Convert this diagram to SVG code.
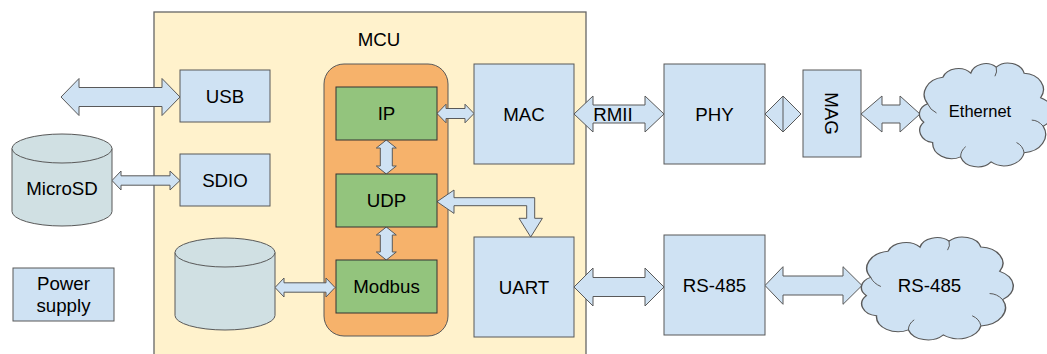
<svg xmlns="http://www.w3.org/2000/svg" width="1047" height="354" viewBox="0 0 1047 354">
<defs>
<style>
.t{font-family:"Liberation Sans",Arial,sans-serif;font-size:18.7px;fill:#000;text-anchor:middle}
.box{fill:#cfe2f3;stroke:#595959;stroke-width:1}
.grn{fill:#93c47d;stroke:#333;stroke-width:1}
.cyl{fill:#d0e0e3;stroke:#595959;stroke-width:1}
.arr{fill:#cfe2f3;stroke:#595959;stroke-width:1;stroke-linejoin:miter}
.cloud{fill:#cfe2f3;stroke:#595959;stroke-width:1}
.hook{fill:none;stroke:#595959;stroke-width:1}
</style>
<path id="cloudShape" d="M6 40 A17 17 0 0 1 18 14 A13 13 0 0 1 40 10 A12 12 0 0 1 60 4 A13 13 0 0 1 82 10 A16 16 0 0 1 95 34 A16 16 0 0 1 97 62 A18 18 0 0 1 82 88 A16 16 0 0 1 56 97 A14 14 0 0 1 32 92 A15 15 0 0 1 10 78 A12 12 0 0 1 3 58 A11 11 0 0 1 6 40 Z"/>
</defs>
<rect width="1047" height="354" fill="#fff"/>
<g id="mcu">
<rect x="154" y="12" width="432" height="350" fill="#fff2cc" stroke="#666" stroke-width="1.3"/>
<text class="t" x="379" y="46">MCU</text>
</g>
<g id="stack">
<rect x="324" y="64" width="124" height="272" rx="20" fill="#f6b26b" stroke="#595959" stroke-width="1"/>
</g>
<g id="connectors">
<polygon class="arr" points="61,97 79,78.5 79,87.5 162,87.5 162,78.5 180,97 162,115.5 162,106.5 79,106.5 79,115.5"/>
<polygon class="arr" points="112,180.5 121,171 121,175.8 170,175.8 170,171 180,180.5 170,190 170,185.2 121,185.2 121,190"/>
<polygon class="arr" points="275,287.5 284,278 284,282.8 326,282.8 326,278 335,287.5 326,297 326,292.2 284,292.2 284,297"/>
<polygon class="arr" points="437,113.5 446,104.2 446,108.5 465,108.5 465,104.2 474,113.5 465,122.8 465,118.5 446,118.5 446,122.8"/>
<polygon class="arr" points="386.3,140 396.3,148 392.3,148 392.3,166 396.3,166 386.3,174 376.3,166 380.3,166 380.3,148 376.3,148"/>
<polygon class="arr" points="386.3,227 396.3,235 392.3,235 392.3,252 396.3,252 386.3,260 376.3,252 380.3,252 380.3,235 376.3,235"/>
<polygon class="arr" points="437,201.7 454,190 454,197.7 534.7,197.7 534.7,218.3 542.4,218.3 530.7,237 519,218.3 526.7,218.3 526.7,205.7 454,205.7 454,213.4"/>
<polygon class="arr" points="574,114 593,96 593,105 645,105 645,96 664,114 645,132 645,123 593,123 593,132"/>
<polygon class="arr" points="765,114 783,96 801,114 783,132"/>
<line x1="783" y1="96" x2="783" y2="132" stroke="#595959" stroke-width="1"/>
<polygon class="arr" points="861,114 882,96 882,105 900,105 900,96 920,114 900,132 900,123 882,123 882,132"/>
<polygon class="arr" points="574,287 593,268 593,277.5 645,277.5 645,268 664,287 645,306 645,296.5 593,296.5 593,306"/>
<polygon class="arr" points="765,285.5 783,266.7 783,276 843,276 843,266.7 862,285.5 843,304.3 843,295 783,295 783,304.3"/>
<text class="t" x="613" y="121">RMII</text>
</g>
<g id="usb">
<rect class="box" x="180" y="70" width="90" height="52"/>
<text class="t" x="225" y="103">USB</text>
</g>
<g id="sdio">
<rect class="box" x="180" y="154" width="90" height="52"/>
<text class="t" x="225" y="187">SDIO</text>
</g>
<g id="microsd">
<path class="cyl" d="M12 148.5 A50 14.5 0 0 1 112 148.5 V211.5 A50 14.5 0 0 1 12 211.5 Z"/>
<path class="cyl" fill="none" d="M12 148.5 A50 14.5 0 0 0 112 148.5"/>
<text class="t" x="62" y="194.5">MicroSD</text>
</g>
<g id="storage">
<path class="cyl" d="M175 252.5 A50 14.5 0 0 1 275 252.5 V315.5 A50 14.5 0 0 1 175 315.5 Z"/>
<path class="cyl" fill="none" d="M175 252.5 A50 14.5 0 0 0 275 252.5"/>
</g>
<g id="power">
<rect class="box" x="13" y="268" width="101" height="53"/>
<text class="t" x="63.5" y="290">Power</text>
<text class="t" x="63.5" y="312">supply</text>
</g>
<g id="ip">
<rect class="grn" x="336" y="87" width="101" height="53"/>
<text class="t" x="386.5" y="120">IP</text>
</g>
<g id="udp">
<rect class="grn" x="336" y="174" width="101" height="53"/>
<text class="t" x="386.5" y="207">UDP</text>
</g>
<g id="modbus">
<rect class="grn" x="336" y="260" width="101" height="53"/>
<text class="t" x="386.5" y="293">Modbus</text>
</g>
<g id="mac">
<rect class="box" x="474" y="64" width="100" height="100"/>
<text class="t" x="524" y="121">MAC</text>
</g>
<g id="uart">
<rect class="box" x="474" y="237" width="100" height="100"/>
<text class="t" x="524" y="294">UART</text>
</g>
<g id="phy">
<rect class="box" x="664" y="64" width="101" height="100"/>
<text class="t" x="714.5" y="121">PHY</text>
</g>
<g id="mag">
<rect class="box" x="803" y="70" width="58" height="87"/>
<text class="t" transform="translate(832 113.5) rotate(90)" x="0" y="6.7">MAG</text>
</g>
<g id="rs485">
<rect class="box" x="664" y="235" width="101" height="100"/>
<text class="t" x="714.5" y="292">RS-485</text>
</g>
<g id="ethernet">
<g transform="translate(920 63) scale(1.27 1.02)">
<use href="#cloudShape" class="cloud" style="vector-effect:non-scaling-stroke"/>
<path class="hook" style="vector-effect:non-scaling-stroke" d="M6 40 Q8 46 13 49 M32 92 Q32 86 36 82 M82 88 Q81 81 76 78 M97 62 Q93 56 88 56 M60 4 Q61 9 59 13"/>
</g>
<text class="t" x="980" y="117" style="font-size:16.5px">Ethernet</text>
</g>
<g id="rs485cloud">
<g transform="translate(862 237) scale(1.45 1.01)">
<use href="#cloudShape" class="cloud" style="vector-effect:non-scaling-stroke"/>
<path class="hook" style="vector-effect:non-scaling-stroke" d="M6 40 Q8 46 13 49 M32 92 Q32 86 36 82 M82 88 Q81 81 76 78 M97 62 Q93 56 88 56 M60 4 Q61 9 59 13"/>
</g>
<text class="t" x="929.5" y="292">RS-485</text>
</g>
</svg>
